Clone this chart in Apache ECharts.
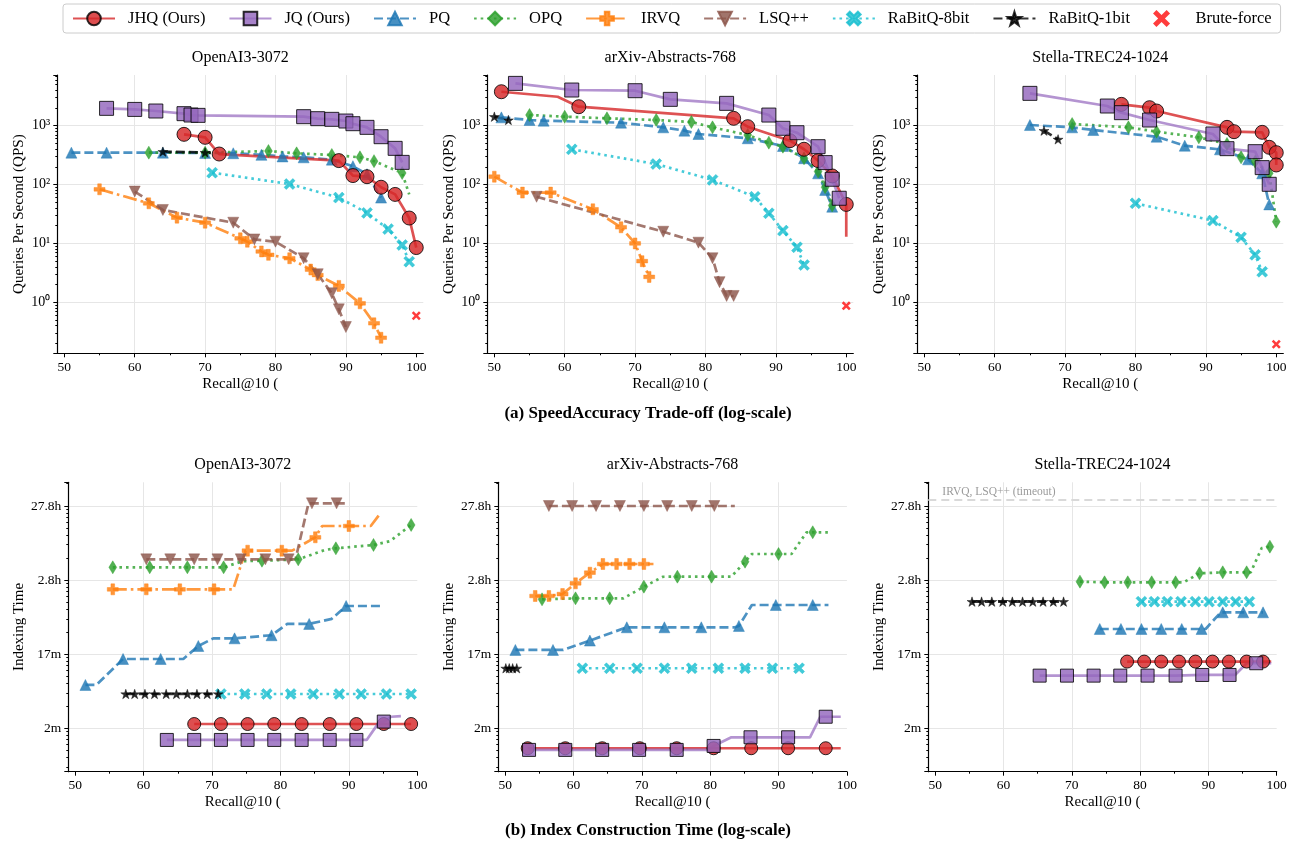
<!DOCTYPE html>
<html>
<head>
<meta charset="utf-8">
<script src="https://cdn.jsdelivr.net/npm/echarts@6/dist/echarts.min.js"></script>
<style>
html, body { margin: 0; padding: 0; background: #fff; }
#chart { width: 1294px; height: 846px; }
</style>
</head>
<body>
<div id="chart"></div>
<script>
// points are [recall, value]; a third element 0 marks a line vertex drawn without a marker
const methods = ['JHQ (Ours)', 'JQ (Ours)', 'PQ', 'OPQ', 'IRVQ', 'LSQ++', 'RaBitQ-8bit', 'RaBitQ-1bit', 'Brute-force'];
const panelTitles = ['OpenAI3-3072', 'arXiv-Abstracts-768', 'Stella-TREC24-1024'];
const xTicks = [50, 60, 70, 80, 90, 100];
const qpsTickLabels = ['10\u2070', '10\u00b9', '10\u00b2', '10\u00b3'];   // 10^0 .. 10^3
const timeTickLabels = ['2m', '17m', '2.8h', '27.8h'];                    // 10^2 .. 10^5 seconds
const timeoutSeconds = 120000;

// ---- (a) QPS vs recall ----
const qpsOpenaiJHQ = [[67, 713], [70, 634], [72, 330], [89, 255], [91, 142], [93, 136], [95, 90], [97, 68], [99, 27], [100, 8.5]];
const qpsOpenaiJQ = [[56, 1970], [60, 1890], [63, 1775], [67, 1600], [68, 1517], [69, 1497], [84, 1422], [86, 1315], [88, 1282], [90, 1200], [91, 1081], [93, 937], [95, 650], [97, 412], [98, 238]];
const qpsOpenaiPQ = [[51, 348], [56, 348], [64, 348], [70, 345], [74, 340], [78, 320], [81, 300], [84, 290], [88, 265], [91, 205], [93, 150], [95, 60]];
const qpsOpenaiOPQ = [[62, 348], [70, 348], [79, 371], [83, 339], [88, 318], [92, 290], [94, 250], [98, 157], [99, 68, 0]];
const qpsOpenaiIRVQ = [[55, 83], [62, 48], [66, 27.4], [70, 22.5], [75, 12.2], [76, 10.7], [78, 7.3], [79, 6.4], [82, 5.6], [85, 3.6], [86, 2.9], [89, 1.9], [92, 0.96], [94, 0.44], [95, 0.25]];
const qpsOpenaiLSQ = [[60, 76], [64, 37], [74, 22.5], [77, 11.7], [80, 10.7], [84, 5.6], [86, 3.0], [88, 1.42], [89, 0.76], [90, 0.38]];
const qpsOpenaiRQ8 = [[71, 159], [82, 102], [89, 60], [93, 33], [96, 17.5], [98, 9.4], [99, 4.9]];
const qpsOpenaiRQ1 = [[64, 362], [70, 350], [71, 345, 0]];
const qpsOpenaiBrute = [[100, 0.59]];

const qpsArxivJHQ = [[51, 3775], [59, 3100, 0], [62, 2100], [84, 1333], [86, 962], [92, 556], [94, 398], [96, 255], [98, 140], [100, 46], [100, 13, 0]];
const qpsArxivJQ = [[53, 5230], [61, 4035], [70, 3930], [75, 2800], [83, 2395], [89, 1515], [91, 903], [93, 760], [96, 440], [97, 236], [98, 123], [99, 58.5]];
const qpsArxivPQ = [[51, 1384], [55, 1248], [57, 1216], [68, 1125], [74, 937], [77, 823], [79, 722], [86, 611], [91, 452], [94, 280], [96, 155], [97, 81], [98, 42]];
const qpsArxivOPQ = [[55, 1518], [60, 1422], [66, 1333], [73, 1249], [78, 1154], [81, 937], [86, 695], [89, 515], [91, 440], [94, 279], [96, 166], [97, 90], [98, 44]];
const qpsArxivIRVQ = [[50, 136], [54, 73], [58, 73], [64, 38], [68, 18.8], [70, 10], [71, 5], [72, 2.7]];
const qpsArxivLSQ = [[56, 62], [74, 15.8], [79, 10.3], [81, 5.6], [82, 2.2], [83, 1.28], [84, 1.28]];
const qpsArxivRQ8 = [[61, 396], [73, 223], [81, 120], [87, 62], [89, 32.5], [91, 16.5], [93, 8.6], [94, 4.3]];
const qpsArxivRQ1 = [[50, 1422], [52, 1248]];
const qpsArxivBrute = [[100, 0.87]];

const qpsStellaJHQ = [[78, 2302], [82, 2022], [83, 1775], [93, 937], [94, 791], [98, 771], [99, 429], [100, 348], [100, 215]];
const qpsStellaJQ = [[65, 3540], [76, 2157], [78, 1663], [82, 1248], [91, 723], [93, 407], [97, 362], [98, 194], [99, 101]];
const qpsStellaPQ = [[65, 1026], [71, 937], [74, 844], [83, 650], [87, 457], [92, 396], [96, 268], [98, 155], [99, 46]];
const qpsStellaOPQ = [[71, 1067], [79, 937], [83, 791], [89, 634], [93, 489], [95, 290], [97, 245], [99, 155], [100, 23.4]];
const qpsStellaRQ8 = [[80, 48], [91, 24.4], [95, 12.7], [97, 6.4], [98, 3.3]];
const qpsStellaRQ1 = [[67, 823], [69, 586]];
const qpsStellaBrute = [[100, 0.194]];

// ---- (b) indexing time (seconds) vs recall ----
const timeOpenaiJHQ = [[67.4, 114], [71.3, 114], [75.2, 114], [79.1, 114], [83.1, 114], [87.2, 114], [91.1, 114], [95.1, 114], [99.1, 114]];
const timeOpenaiJQ = [[63.4, 69.5], [67.4, 69.5], [71.3, 69.5], [75.2, 69.5], [79.1, 69.5], [83.1, 69.5], [87.2, 69.5], [91.1, 69.5], [92.6, 69.5, 0], [94.4, 120, 0], [95.1, 123], [96.2, 143, 0], [97.6, 146, 0]];
const timeOpenaiPQ = [[51.5, 384], [53.1, 384, 0], [57, 861], [62.5, 861], [65.8, 861, 0], [68, 1290], [70.2, 1636, 0], [73.3, 1636], [78.7, 1800], [81, 2560, 0], [84.2, 2560], [87.5, 3000, 0], [89.6, 4470], [94.6, 4470, 0]];
const timeOpenaiOPQ = [[55.5, 14870], [60.9, 14870], [66.4, 14870], [71.7, 14870], [74.5, 18000, 0], [77.3, 18270], [82.6, 19050], [86.5, 25500, 0], [88.1, 26850], [93.6, 29800], [96, 33500, 0], [99.1, 55500]];
const timeOpenaiIRVQ = [[55.5, 7500], [60.4, 7500], [65.3, 7500], [70.3, 7500], [73.1, 7500, 0], [74.9, 24950, 0], [75.2, 24950], [80.2, 24950], [81.7, 24950, 0], [85.1, 37800], [86.1, 53700, 0], [90, 53700], [93.2, 53700, 0], [94.6, 79600, 0]];
const timeOpenaiLSQ = [[60.4, 19050], [63.9, 19050], [67.4, 19050], [70.8, 19050], [74.2, 19050], [77.8, 19050], [81.2, 19050], [82.2, 19050, 0], [84.1, 108700, 0], [84.6, 108700], [88.2, 108700], [89.5, 108700, 0]];
const timeOpenaiRQ8 = [[71.3, 290], [74.8, 290], [78, 290], [81.5, 290], [84.8, 290], [88.6, 290], [91.8, 290], [95.5, 290], [99.1, 290]];
const timeOpenaiRQ1 = [[57.4, 290], [58.7, 290], [60.2, 290], [61.6, 290], [63.3, 290], [64.8, 290], [66.4, 290], [67.8, 290], [69.3, 290], [70.9, 290]];

const timeArxivJHQ = [[53.3, 53.7], [58.8, 53.7], [64.2, 53.7], [69.7, 53.7], [75.1, 53.7], [80.5, 53.7], [86, 53.7], [91.4, 53.7], [96.9, 53.7], [99.1, 53.7, 0]];
const timeArxivJQ = [[53.5, 51], [58.8, 51], [64.2, 51], [69.6, 51], [75.1, 51], [79.7, 51, 0], [80.5, 57.7], [83.1, 75.5, 0], [85.9, 75.5], [91.4, 75.5], [94.6, 75.5, 0], [96.1, 143, 0], [96.9, 143], [99.1, 143, 0]];
const timeArxivPQ = [[51.5, 1140], [57, 1140], [58.5, 1140, 0], [62.4, 1525], [67.8, 2306], [73.3, 2306], [78.7, 2306], [83.6, 2306, 0], [84.2, 2404], [86.1, 4610, 0], [89.6, 4610], [95, 4610], [97.3, 4610, 0]];
const timeArxivOPQ = [[55.4, 5500], [60.3, 5670], [65.3, 5670], [67.3, 5670, 0], [70.3, 8150], [73.1, 11100, 0], [75.2, 11120], [80.2, 11120], [83.1, 11120, 0], [85.1, 17730], [86.1, 22500, 0], [90, 22500], [91.9, 22500, 0], [94.1, 44200, 0], [95, 44200], [97.3, 44200, 0]];
const timeArxivIRVQ = [[54.4, 6100], [56.4, 6100], [58.4, 6480], [60.3, 9040], [62.4, 12590], [64.3, 16490], [66.3, 16490], [68.2, 16490], [70.3, 16490], [71.7, 16490, 0]];
const timeArxivLSQ = [[56.4, 100000], [59.8, 100000], [63.3, 100000], [66.8, 100000], [70.3, 100000], [73.7, 100000], [77.3, 100000], [80.6, 100000], [83.6, 100000, 0]];
const timeArxivRQ8 = [[61.3, 645], [65.3, 645], [69.3, 645], [73.3, 645], [77.3, 645], [81.2, 645], [85.1, 645], [89.1, 645], [93, 645]];
const timeArxivRQ1 = [[50.1, 645], [50.6, 645], [51.1, 645], [51.7, 645]];

const timeStellaJHQ = [[78.1, 794], [80.6, 794], [83.1, 794], [85.7, 794], [88.1, 794], [90.6, 794], [93, 794], [95.6, 794], [98, 794], [99.2, 794, 0]];
const timeStellaJQ = [[65.3, 513], [69.3, 513], [73.2, 513], [77.1, 513], [81.1, 513], [85.2, 513], [89.1, 524], [93.1, 524], [93.9, 524, 0], [95.6, 754, 0], [97, 754], [99.2, 754, 0]];
const timeStellaPQ = [[74.1, 2188], [77.2, 2188], [80.2, 2188], [83.1, 2188], [86.1, 2188], [89, 2188], [89.6, 2188, 0], [91.8, 3670, 0], [92.1, 3670], [95.1, 3670], [98, 3670]];
const timeStellaOPQ = [[71.2, 9530], [74.8, 9330], [78.2, 9330], [81.7, 9330], [85.2, 9330], [86.4, 9330, 0], [88.7, 12340], [92.1, 12730], [95.6, 12730], [96.2, 12730, 0], [97.8, 27000, 0], [99, 28260]];
const timeStellaRQ8 = [[80.2, 5120], [82.1, 5120], [84, 5120], [86, 5120], [88.1, 5120], [90.1, 5120], [92.1, 5120], [94, 5120], [96, 5120]];
const timeStellaRQ1 = [[55.4, 5120], [56.8, 5120], [58.3, 5120], [59.9, 5120], [61.3, 5120], [62.8, 5120], [64.3, 5120], [65.8, 5120], [67.3, 5120], [68.8, 5120]];

// panels in grid order
const panels = [
  { 'JHQ (Ours)': qpsOpenaiJHQ, 'JQ (Ours)': qpsOpenaiJQ, 'PQ': qpsOpenaiPQ, 'OPQ': qpsOpenaiOPQ, 'IRVQ': qpsOpenaiIRVQ, 'LSQ++': qpsOpenaiLSQ, 'RaBitQ-8bit': qpsOpenaiRQ8, 'RaBitQ-1bit': qpsOpenaiRQ1, 'Brute-force': qpsOpenaiBrute },
  { 'JHQ (Ours)': qpsArxivJHQ, 'JQ (Ours)': qpsArxivJQ, 'PQ': qpsArxivPQ, 'OPQ': qpsArxivOPQ, 'IRVQ': qpsArxivIRVQ, 'LSQ++': qpsArxivLSQ, 'RaBitQ-8bit': qpsArxivRQ8, 'RaBitQ-1bit': qpsArxivRQ1, 'Brute-force': qpsArxivBrute },
  { 'JHQ (Ours)': qpsStellaJHQ, 'JQ (Ours)': qpsStellaJQ, 'PQ': qpsStellaPQ, 'OPQ': qpsStellaOPQ, 'RaBitQ-8bit': qpsStellaRQ8, 'RaBitQ-1bit': qpsStellaRQ1, 'Brute-force': qpsStellaBrute },
  { 'JHQ (Ours)': timeOpenaiJHQ, 'JQ (Ours)': timeOpenaiJQ, 'PQ': timeOpenaiPQ, 'OPQ': timeOpenaiOPQ, 'IRVQ': timeOpenaiIRVQ, 'LSQ++': timeOpenaiLSQ, 'RaBitQ-8bit': timeOpenaiRQ8, 'RaBitQ-1bit': timeOpenaiRQ1 },
  { 'JHQ (Ours)': timeArxivJHQ, 'JQ (Ours)': timeArxivJQ, 'PQ': timeArxivPQ, 'OPQ': timeArxivOPQ, 'IRVQ': timeArxivIRVQ, 'LSQ++': timeArxivLSQ, 'RaBitQ-8bit': timeArxivRQ8, 'RaBitQ-1bit': timeArxivRQ1 },
  { 'JHQ (Ours)': timeStellaJHQ, 'JQ (Ours)': timeStellaJQ, 'PQ': timeStellaPQ, 'OPQ': timeStellaOPQ, 'RaBitQ-8bit': timeStellaRQ8, 'RaBitQ-1bit': timeStellaRQ1 },
];

// ---- styles ----
const FONT = 'Liberation Serif';
const DASH = [9, 4], DOT = [2.6, 4], DASHDOT = [14, 4, 2.6, 4];
const PLUS = 'path://M-1,-3H1V-1H3V1H1V3H-1V1H-3V-1H-1Z';
const XMARK = 'path://M0,-1.41L2.12,-3.54L3.54,-2.12L1.41,0L3.54,2.12L2.12,3.54L0,1.41L-2.12,3.54L-3.54,2.12L-1.41,0L-3.54,-2.12L-2.12,-3.54Z';
const STAR = 'path://M0,-1L0.2245,-0.309L0.951,-0.309L0.363,0.118L0.588,0.809L0,0.382L-0.588,0.809L-0.363,0.118L-0.951,-0.309L-0.2245,-0.309Z';
const THIN_DIAMOND = 'path://M0,-1L0.6,0L0,1L-0.6,0Z';
const styles = {
  'JHQ (Ours)': { color: '#d62728', dash: 'solid', symbol: 'circle', size: 14, edge: '#000' },
  'JQ (Ours)': { color: '#9467bd', dash: 'solid', symbol: 'rect', size: 14, edge: '#000' },
  'PQ': { color: '#1f77b4', dash: DASH, symbol: 'triangle', size: 11 },
  'OPQ': { color: '#2ca02c', dash: DOT, symbol: THIN_DIAMOND, size: 13 },
  'IRVQ': { color: '#ff7f0e', dash: DASHDOT, symbol: PLUS, size: 11 },
  'LSQ++': { color: '#8c564b', dash: DASH, symbol: 'triangle', size: 11, rotate: 180 },
  'RaBitQ-8bit': { color: '#17becf', dash: DOT, symbol: XMARK, size: 11 },
  'RaBitQ-1bit': { color: '#000000', dash: DASH, symbol: STAR, size: 10 },
  'Brute-force': { color: '#ff1a1a', symbol: XMARK, size: 9 },
};
const drawOrder = ['PQ', 'OPQ', 'IRVQ', 'LSQ++', 'RaBitQ-8bit', 'RaBitQ-1bit', 'Brute-force', 'JHQ (Ours)', 'JQ (Ours)'];

const grids = [
  { left: 57.3, top: 75, width: 366, height: 278.3 },
  { left: 487.3, top: 75, width: 366, height: 278.3 },
  { left: 917.3, top: 75, width: 366, height: 278.3 },
  { left: 68.3, top: 482.3, width: 349, height: 289.4 },
  { left: 498.3, top: 482.3, width: 348.6, height: 289.4 },
  { left: 928.3, top: 482.3, width: 348.4, height: 289.4 },
];

function logLabel(labels, base) {
  return (v) => {
    const e = Math.log10(v);
    const k = Math.round(e);
    if (Math.abs(e - k) > 1e-6) return '';
    return labels[k - base] || '';
  };
}

const axisLine = { show: true, onZero: false, lineStyle: { color: '#000', width: 1.2 } };
const tick = { show: true, length: 4, lineStyle: { color: '#000', width: 1 } };
const split = { show: true, showMinLine: false, showMaxLine: false, lineStyle: { color: '#e6e6e6', width: 1 } };

const xAxes = grids.map((g, i) => ({
  type: 'value', gridIndex: i, min: 49, max: i < 3 ? 101 : 100,
  name: 'Recall@10 (', nameLocation: 'middle', nameGap: 23,
  nameTextStyle: { fontFamily: FONT, fontSize: 15, color: '#000' },
  axisLine, axisTick: Object.assign({ customValues: xTicks }, tick),
  minorTick: { show: true, splitNumber: 2, length: 2, lineStyle: { color: '#000' } },
  axisLabel: { customValues: xTicks, fontFamily: FONT, fontSize: 13.5, color: '#000', margin: 7 },
  splitLine: split,
}));

const yAxes = grids.map((g, i) => {
  const top = i < 3;
  return {
    type: 'log', gridIndex: i, logBase: 10,
    min: top ? 0.136 : 25.9, max: top ? 7260 : 209000,
    name: top ? 'Queries Per Second (QPS)' : 'Indexing Time',
    nameLocation: 'middle', nameGap: top ? 31 : 42,
    nameTextStyle: { fontFamily: FONT, fontSize: 15, color: '#000' },
    axisLine, axisTick: tick,
    minorTick: { show: true, splitNumber: 9, length: 2, lineStyle: { color: '#000' } },
    axisLabel: {
      fontFamily: FONT, fontSize: top ? 14 : 13.5, color: '#000', margin: 7,
      showMinLabel: false, showMaxLabel: false,
      formatter: top ? logLabel(qpsTickLabels, 0) : logLabel(timeTickLabels, 2),
    },
    splitLine: split,
  };
});

const series = [];
panels.forEach((panel, gi) => {
  const big = gi < 3 ? 14 : 13;
  drawOrder.forEach((m) => {
    const pts = panel[m];
    if (!pts) return;
    const st = styles[m];
    const data = pts.map((p) => (p[2] === 0 ? { value: [p[0], p[1]], symbol: 'none' } : [p[0], p[1]]));
    const size = st.edge ? big : st.size;
    const itemStyle = { color: st.color, opacity: 0.82, borderColor: st.edge || st.color, borderWidth: st.edge ? 1 : 0.5 };
    if (m === 'Brute-force') {
      series.push({ type: 'scatter', name: m, xAxisIndex: gi, yAxisIndex: gi, data, symbol: st.symbol, symbolSize: st.size, symbolKeepAspect: true, itemStyle: { color: st.color, opacity: 0.85 }, silent: true });
      return;
    }
    const s = {
      type: 'line', name: m, xAxisIndex: gi, yAxisIndex: gi, data,
      symbol: st.symbol, symbolSize: size, symbolRotate: st.rotate || 0, symbolKeepAspect: true,
      showAllSymbol: true, smooth: false, silent: true,
      lineStyle: { color: st.color, width: 2.7, type: st.dash, opacity: m === 'JQ (Ours)' ? 0.7 : 0.8 },
      itemStyle,
    };
    if (gi === 5 && m === 'PQ') {
      s.markLine = {
        silent: true, symbol: ['none', 'none'], animation: false,
        data: [{ yAxis: timeoutSeconds }],
        lineStyle: { color: '#d9d9d9', type: [8, 5], width: 2, opacity: 1 },
        label: { show: true, position: 'insideStartTop', formatter: 'IRVQ, LSQ++ (timeout)', color: '#9a9a9a', fontFamily: FONT, fontSize: 11.5, distance: [14, 2] },
        emphasis: { disabled: true },
      };
    }
    series.push(s);
  });
});

const texts = [];
grids.forEach((g, i) => {
  texts.push({
    type: 'text', x: g.left + g.width / 2, y: i < 3 ? 58 : 465,
    style: { text: panelTitles[i % 3], align: 'center', verticalAlign: 'middle', fontFamily: FONT, fontSize: 16, fill: '#000' },
  });
});
texts.push({ type: 'text', x: 648, y: 414, style: { text: '(a) SpeedAccuracy Trade-off (log-scale)', align: 'center', verticalAlign: 'middle', fontFamily: FONT, fontSize: 17, fontWeight: 'bold', fill: '#000' } });
texts.push({ type: 'text', x: 648, y: 831, style: { text: '(b) Index Construction Time (log-scale)', align: 'center', verticalAlign: 'middle', fontFamily: FONT, fontSize: 17, fontWeight: 'bold', fill: '#000' } });

const chart = echarts.init(document.getElementById('chart'), null, { renderer: 'canvas' });
chart.setOption({
  animation: false,
  backgroundColor: '#fff',
  textStyle: { fontFamily: FONT },
  legend: {
    data: methods, left: 63, top: 4, orient: 'horizontal',
    itemWidth: 42, itemHeight: 17, itemGap: 23, padding: [6, 9],
    borderColor: '#cccccc', borderWidth: 1, borderRadius: 3,
    textStyle: { fontFamily: FONT, fontSize: 16.5, color: '#000', padding: [0, 0, 0, 8] },
    selectedMode: false,
  },
  grid: grids.map((g) => Object.assign({ outerBoundsMode: 'none' }, g)),
  xAxis: xAxes,
  yAxis: yAxes,
  series,
  graphic: texts,
});
</script>
</body>
</html>
